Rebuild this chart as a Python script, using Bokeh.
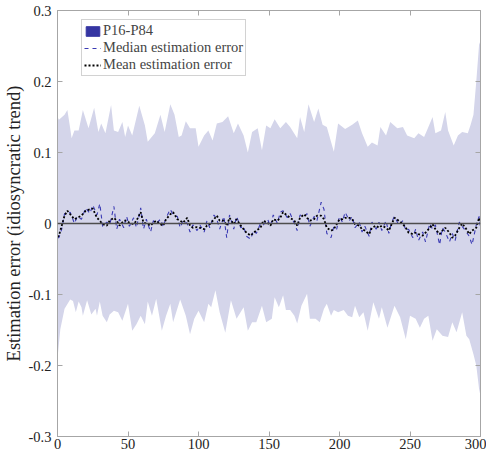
from bokeh.plotting import figure
from bokeh.models import (Range1d, FixedTicker, LinearAxis, Span, Legend, LegendItem,
                          CustomJSTickFormatter, CustomLabelingPolicy, ColumnDataSource)
from bokeh.embed import file_html
from bokeh.resources import INLINE

# P16-P84 band (upper and lower edges)
upper_x = [0, 1, 5, 7, 9, 10, 12, 15, 18, 22, 26, 29, 31, 34, 38, 40, 43, 46, 48, 50,
           53, 58, 62, 64, 69, 73, 76, 80, 83, 86, 88, 91, 94, 98, 100, 104, 107, 110,
           113, 117, 121, 125, 128, 132, 135, 138, 142, 145, 148, 151, 154, 158, 162,
           165, 170, 172, 175, 178, 182, 185, 188, 191, 196, 199, 204, 209, 213, 216,
           220, 223, 227, 229, 233, 236, 241, 245, 248, 253, 256, 260, 262, 266, 268,
           272, 275, 277, 281, 284, 287, 291, 293, 295, 297, 299, 300]
upper_y = [0.150, 0.146, 0.153, 0.160, 0.134, 0.120, 0.131, 0.131, 0.160, 0.134, 0.163,
           0.129, 0.141, 0.127, 0.167, 0.131, 0.129, 0.143, 0.122, 0.138, 0.124, 0.166,
           0.138, 0.115, 0.127, 0.153, 0.129, 0.168, 0.153, 0.122, 0.124, 0.144, 0.134,
           0.134, 0.108, 0.124, 0.131, 0.117, 0.141, 0.143, 0.151, 0.127, 0.141, 0.124,
           0.100, 0.129, 0.134, 0.103, 0.138, 0.134, 0.147, 0.134, 0.143, 0.136, 0.120,
           0.150, 0.129, 0.168, 0.143, 0.162, 0.139, 0.136, 0.101, 0.141, 0.133, 0.139,
           0.145, 0.127, 0.108, 0.114, 0.110, 0.136, 0.124, 0.143, 0.134, 0.136, 0.124,
           0.120, 0.127, 0.122, 0.131, 0.150, 0.127, 0.131, 0.157, 0.131, 0.110, 0.124,
           0.129, 0.127, 0.139, 0.153, 0.200, 0.252, 0.257]
lower_x = [0, 2, 5, 9, 11, 13, 15, 17, 18, 21, 24, 27, 28, 30, 32, 35, 37, 40, 43, 46,
           50, 53, 56, 59, 62, 64, 67, 70, 74, 77, 80, 82, 87, 91, 94, 97, 100, 104, 107,
           109, 112, 115, 119, 123, 127, 132, 135, 138, 141, 145, 148, 152, 154, 157,
           160, 162, 165, 168, 170, 173, 177, 179, 183, 186, 189, 191, 194, 196, 199,
           203, 206, 209, 211, 214, 217, 220, 224, 228, 230, 234, 239, 243, 247, 250,
           254, 257, 260, 263, 266, 269, 273, 277, 280, 283, 287, 290, 292, 295, 297,
           299, 300]
lower_y = [-0.190, -0.149, -0.120, -0.107, -0.109, -0.125, -0.110, -0.118, -0.130, -0.108,
           -0.128, -0.120, -0.130, -0.110, -0.130, -0.139, -0.128, -0.123, -0.125, -0.137,
           -0.113, -0.151, -0.142, -0.130, -0.142, -0.110, -0.130, -0.106, -0.151, -0.130,
           -0.113, -0.139, -0.107, -0.130, -0.156, -0.134, -0.123, -0.139, -0.113, -0.118,
           -0.094, -0.125, -0.154, -0.108, -0.134, -0.118, -0.151, -0.139, -0.139, -0.116,
           -0.139, -0.134, -0.104, -0.118, -0.101, -0.122, -0.122, -0.130, -0.141, -0.116,
           -0.099, -0.134, -0.134, -0.139, -0.120, -0.113, -0.130, -0.122, -0.125, -0.122,
           -0.130, -0.132, -0.116, -0.132, -0.125, -0.151, -0.111, -0.134, -0.118, -0.147,
           -0.116, -0.132, -0.163, -0.130, -0.134, -0.147, -0.134, -0.130, -0.165, -0.149,
           -0.158, -0.160, -0.139, -0.153, -0.125, -0.158, -0.163, -0.184, -0.200, -0.233,
           -0.243]

# median and mean estimation error
err_x = [0, 1, 3, 5, 7, 9, 12, 14, 17, 20, 23, 25, 28, 30, 32, 35, 37, 40, 42, 44, 47,
         49, 51, 54, 56, 59, 61, 63, 66, 68, 70, 73, 75, 77, 80, 82, 85, 87, 89, 92, 94,
         96, 99, 101, 104, 106, 108, 111, 113, 115, 118, 120, 122, 125, 127, 130, 132,
         134, 137, 139, 141, 144, 146, 149, 151, 153, 156, 158, 160, 163, 165, 168, 170,
         172, 175, 177, 179, 182, 184, 187, 189, 191, 194, 196, 198, 200, 202, 204, 207,
         209, 211, 214, 216, 218, 221, 223, 226, 228, 230, 233, 235, 237, 239, 242, 245,
         247, 249, 252, 254, 256, 259, 261, 264, 266, 268, 271, 273, 275, 278, 280, 282,
         285, 287, 290, 292, 294, 297, 299, 300]
mean_err = [-0.019, -0.017, -0.003, 0.011, 0.018, 0.013, 0.006, 0.008, 0.011, 0.018,
            0.020, 0.021, 0.008, 0.004, -0.001, -0.003, 0.004, 0.008, 0.004, -0.003,
            0.004, 0.004, 0.001, -0.001, 0.004, 0.016, 0.001, 0.000, -0.003, 0.001, 0.004,
            -0.001, -0.003, 0.006, 0.013, 0.016, 0.006, 0.004, 0.001, 0.008, -0.003,
            -0.006, -0.005, -0.006, -0.008, -0.003, -0.001, 0.006, 0.011, 0.004, 0.004,
            -0.003, 0.008, -0.001, 0.006, -0.003, -0.008, -0.013, -0.017, -0.013, -0.010,
            -0.006, 0.004, 0.001, -0.003, 0.006, 0.004, 0.008, 0.016, 0.011, 0.008, 0.004,
            -0.003, 0.008, 0.013, 0.008, 0.004, 0.006, 0.011, 0.011, 0.006, -0.006, -0.010,
            -0.008, -0.001, 0.006, 0.006, 0.008, 0.008, 0.006, -0.001, -0.003, -0.008,
            -0.010, -0.015, -0.006, -0.003, -0.006, -0.003, -0.006, -0.010, -0.001, 0.008,
            0.004, -0.001, -0.006, -0.013, -0.015, -0.013, -0.015, -0.017, -0.013, -0.006,
            -0.001, -0.008, -0.015, -0.010, -0.006, -0.013, -0.020, -0.017, -0.006, 0.000,
            -0.008, -0.015, -0.010, -0.006, 0.008, 0.004]
median_err = [-0.020, -0.020, -0.008, 0.014, 0.012, 0.016, 0.000, 0.010, 0.006, 0.022,
              0.014, 0.026, 0.012, 0.028, -0.004, 0.002, -0.002, 0.024, -0.008, 0.006,
              -0.006, 0.010, -0.004, 0.008, -0.006, 0.022, -0.008, 0.006, -0.012, 0.004,
              0.000, 0.006, -0.004, 0.008, 0.020, 0.012, 0.010, -0.006, 0.004, 0.000,
              -0.012, -0.002, -0.010, -0.002, -0.012, 0.004, -0.006, 0.012, 0.006, -0.008,
              0.010, -0.020, 0.012, -0.008, 0.010, -0.006, -0.004, -0.018, -0.022, -0.010,
              -0.014, 0.000, -0.002, 0.006, -0.004, 0.012, 0.000, 0.016, 0.018, 0.008,
              0.014, 0.000, -0.010, 0.012, 0.010, 0.014, -0.004, 0.010, 0.004, 0.030,
              0.020, -0.014, -0.020, -0.004, -0.008, 0.010, 0.002, 0.016, 0.004, 0.010,
              -0.006, 0.002, -0.012, -0.004, -0.018, 0.002, -0.008, 0.002, -0.010, 0.004,
              -0.014, 0.002, 0.010, -0.002, 0.004, -0.010, -0.008, -0.020, -0.008, -0.024,
              -0.012, -0.026, 0.000, -0.008, -0.002, -0.030, -0.006, -0.012, -0.026,
              -0.014, -0.024, 0.002, -0.004, -0.012, -0.018, -0.030, -0.002, 0.010, -0.006]

x_ticks = [0, 50, 100, 150, 200, 250, 300]
y_ticks = [-0.3, -0.2, -0.1, 0, 0.1, 0.2, 0.3]

FONT = "Liberation Serif"
BORDER = "#a6a6a6"

p = figure(width=486, height=452, output_backend="svg", toolbar_location=None, tools="",
           x_range=Range1d(0, 300), y_range=Range1d(-0.3, 0.3),
           min_border_left=55, min_border_right=6, min_border_top=10, min_border_bottom=16)
p.grid.visible = False
p.outline_line_color = BORDER
p.background_fill_color = "white"

# band as one polygon: upper edge then lower edge reversed
band = p.patch(upper_x + lower_x[::-1], upper_y + lower_y[::-1],
               fill_color="#d4d5ea", line_color=None)

p.add_layout(Span(location=0, dimension="width", line_color="#4d4d4d", line_width=1.6))

med = p.line(err_x, median_err, line_color="#3a3ab4", line_width=1.1, line_dash="4 4")
mean = p.line(err_x, mean_err, line_color="black", line_width=1.8, line_dash="2 2")

# legend swatch for the band (dark blue, as in the original); no visible mark
nan = float("nan")
swatch = p.quad(source=ColumnDataSource(dict(l=[nan], r=[nan], t=[nan], b=[nan])),
                left="l", right="r", top="t", bottom="b",
                fill_color="#3535a2", line_color="#3535a2")

fmt = CustomJSTickFormatter(code="return tick == 0 ? '0' : (Number.isInteger(tick) ? tick.toString() : tick.toFixed(1));")

for ax in [p.xaxis[0], p.yaxis[0]]:
    ax.axis_line_color = BORDER
    ax.major_tick_line_color = BORDER
    ax.major_tick_in = 5
    ax.major_tick_out = 0
    ax.minor_tick_line_color = None
    ax.major_label_text_font = FONT
    ax.major_label_text_font_size = "14.5px"
    ax.major_label_text_color = "#222222"
    ax.formatter = fmt
p.xaxis.ticker = FixedTicker(ticks=x_ticks)
p.yaxis.ticker = FixedTicker(ticks=y_ticks)
p.xaxis.major_label_standoff = 2
p.yaxis.major_label_standoff = 6
p.yaxis.axis_label = "Estimation error (idiosyncratic trend)"
p.yaxis.axis_label_text_font = FONT
p.yaxis.axis_label_text_font_size = "18.5px"
p.yaxis.axis_label_text_font_style = "normal"
p.yaxis.axis_label_text_color = "#222222"
p.yaxis.axis_label_standoff = 2

# mirrored ticks on top and right, labels filtered out
def mirror_axis(ticks):
    return LinearAxis(ticker=FixedTicker(ticks=ticks), major_label_text_font_size="1px",
                      major_label_policy=CustomLabelingPolicy(code="return []"),
                      major_label_standoff=0, axis_line_color=BORDER,
                      major_tick_line_color=BORDER, major_tick_in=5, major_tick_out=0,
                      minor_tick_line_color=None)

p.add_layout(mirror_axis(x_ticks), "above")
p.add_layout(mirror_axis(y_ticks), "right")

legend = Legend(items=[LegendItem(label="P16-P84", renderers=[swatch]),
                       LegendItem(label="Median estimation error", renderers=[med]),
                       LegendItem(label="Mean estimation error", renderers=[mean])],
                location=(24, 360), margin=0, padding=2, spacing=0,
                glyph_width=17, glyph_height=12, label_height=12, label_standoff=2,
                label_text_font=FONT, label_text_font_size="14.5px",
                border_line_color=BORDER, border_line_width=1,
                background_fill_color="white", background_fill_alpha=1)
p.add_layout(legend)

open("out.html", "w").write(file_html(p, INLINE))
